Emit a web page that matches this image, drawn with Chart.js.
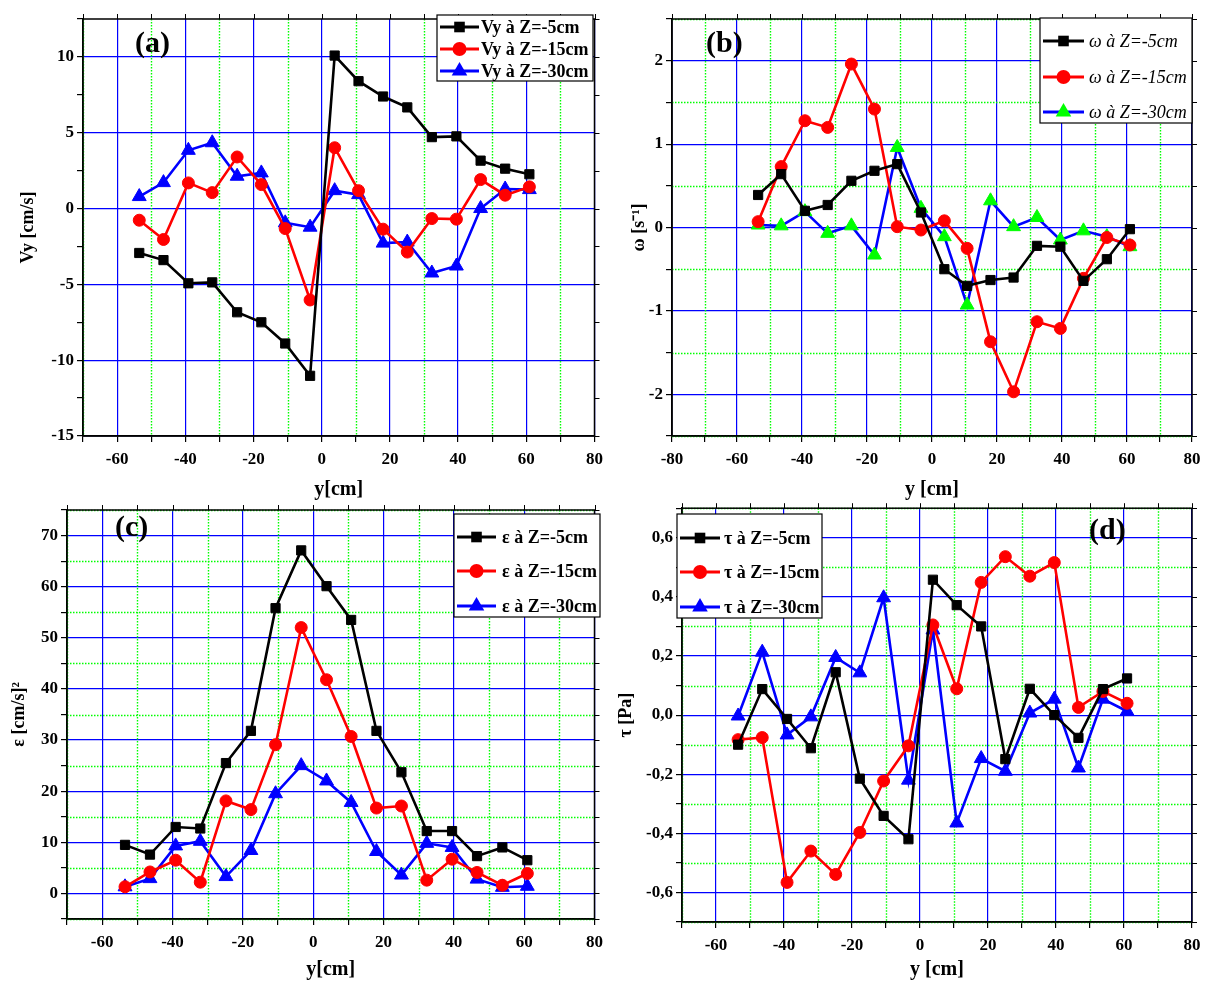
<!DOCTYPE html>
<html>
<head>
<meta charset="utf-8">
<script src="https://cdn.jsdelivr.net/npm/chart.js"></script>
<style>
  body { margin: 0; background: #fff; width: 1209px; height: 985px; position: relative; overflow: hidden; }
  canvas { position: absolute; }
</style>
</head>
<body>
<canvas id="chartA" width="610" height="505" style="left:0;top:0"></canvas>
<canvas id="chartB" width="599" height="505" style="left:610px;top:0"></canvas>
<canvas id="chartC" width="610" height="490" style="left:0;top:495px"></canvas>
<canvas id="chartD" width="599" height="490" style="left:610px;top:495px"></canvas>
<script>
// transverse positions y [cm], same for every series
var yPos = [-53.5, -46.4, -39.1, -32.1, -24.8, -17.7, -10.7, -3.4, 3.8, 10.8, 18, 25.1, 32.3, 39.5, 46.6, 53.8, 60.9];

// (a) Vy [cm/s]
var vyLabels = ['Vy à Z=-5cm', 'Vy à Z=-15cm', 'Vy à Z=-30cm'];
var vyZ5  = [-2.93, -3.4, -4.93, -4.87, -6.84, -7.5, -8.9, -11.03, 10.09, 8.4, 7.39, 6.67, 4.71, 4.76, 3.16, 2.63, 2.26];
var vyZ15 = [-0.77, -2.04, 1.69, 1.05, 3.4, 1.58, -1.32, -6.03, 4.01, 1.18, -1.36, -2.87, -0.66, -0.7, 1.91, 0.88, 1.43];
var vyZ30 = [0.79, 1.71, 3.84, 4.34, 2.13, 2.35, -0.94, -1.23, 1.18, 0.92, -2.28, -2.21, -4.25, -3.79, 0, 1.29, 1.25];

// (b) omega [s-1]
var omLabels = ['ω à Z=-5cm', 'ω à Z=-15cm', 'ω à Z=-30cm'];
var omZ5  = [0.39, 0.64, 0.2, 0.27, 0.56, 0.68, 0.76, 0.18, -0.5, -0.7, -0.63, -0.6, -0.22, -0.23, -0.64, -0.38, -0.02];
var omZ15 = [0.07, 0.73, 1.28, 1.2, 1.96, 1.42, 0.01, -0.03, 0.08, -0.25, -1.37, -1.97, -1.13, -1.21, -0.61, -0.12, -0.21];
var omZ30 = [0.03, 0.02, 0.19, -0.07, 0.02, -0.33, 0.96, 0.23, -0.11, -0.93, 0.32, 0.01, 0.12, -0.15, -0.04, -0.11, -0.23];

// (c) epsilon [cm/s]^2
var epsLabels = ['ε à Z=-5cm', 'ε à Z=-15cm', 'ε à Z=-30cm'];
var epsZ5  = [9.5, 7.6, 13.0, 12.7, 25.5, 31.8, 55.8, 67.1, 60.1, 53.5, 31.8, 23.7, 12.2, 12.2, 7.3, 9.0, 6.5];
var epsZ15 = [1.3, 4.2, 6.5, 2.2, 18.1, 16.4, 29.1, 52.0, 41.8, 30.7, 16.7, 17.1, 2.6, 6.7, 4.1, 1.6, 3.9];
var epsZ30 = [1.3, 2.9, 9.3, 10.2, 3.3, 8.4, 19.5, 25.0, 22.0, 17.8, 8.2, 3.6, 9.8, 9.0, 2.8, 1.2, 1.4];

// (d) tau [Pa]
var tauLabels = ['τ à Z=-5cm', 'τ à Z=-15cm', 'τ à Z=-30cm'];
var tauZ5  = [-0.1, 0.088, -0.013, -0.112, 0.145, -0.215, -0.341, -0.42, 0.458, 0.372, 0.3, -0.149, 0.089, 0.0, -0.077, 0.088, 0.124];
var tauZ15 = [-0.083, -0.076, -0.566, -0.46, -0.539, -0.397, -0.223, -0.104, 0.305, 0.089, 0.449, 0.536, 0.47, 0.516, 0.026, 0.08, 0.04];
var tauZ30 = [-0.003, 0.213, -0.067, -0.006, 0.195, 0.143, 0.397, -0.22, 0.288, -0.365, -0.147, -0.19, 0.007, 0.054, -0.179, 0.054, 0.013];

var FONT = "'Liberation Serif', 'Times New Roman', serif";
var BLACK = '#000000', RED = '#ff0000', BLUE = '#0000ff', GREEN = '#00ff00';

function pts(values) {
    return values.map(function (v, i) { return { x: yPos[i], y: v }; });
}

function series(label, values, color, style, pointColor) {
    var pc = pointColor || color;
    return {
        label: label,
        data: pts(values),
        borderColor: color,
        backgroundColor: pc,
        pointBackgroundColor: pc,
        pointBorderColor: pc,
        borderWidth: 2.6,
        pointStyle: style,
        pointRadius: style === 'triangle' ? 8 : (style === 'rect' ? 6.5 : 6),
        pointBorderWidth: 1,
        tension: 0
    };
}

function drawMarker(ctx, style, x, y, r) {
    ctx.beginPath();
    if (style === 'rect') {
        var s = r * Math.SQRT1_2;
        ctx.rect(x - s, y - s, 2 * s, 2 * s);
    } else if (style === 'circle') {
        ctx.arc(x, y, r, 0, Math.PI * 2);
    } else {
        ctx.moveTo(x, y - r);
        ctx.lineTo(x + r * 0.866, y + r * 0.5);
        ctx.lineTo(x - r * 0.866, y + r * 0.5);
        ctx.closePath();
    }
    ctx.fill();
}

// green dotted minor grid, frame, top/right ticks, boxed legend, panel letter
function decoPlugin(cfg) {
    return {
        id: 'deco',
        beforeDatasetsDraw: function (chart) {
            var ctx = chart.ctx, a = chart.chartArea, sx = chart.scales.x, sy = chart.scales.y;
            ctx.save();
            ctx.strokeStyle = GREEN;
            ctx.lineWidth = 1.4;
            ctx.setLineDash([1.5, 1.5]);
            sx.ticks.forEach(function (t) {
                if (t.value % 20 === 0) return;
                var p = Math.round(sx.getPixelForValue(t.value)) + 0.5;
                ctx.beginPath(); ctx.moveTo(p, a.top); ctx.lineTo(p, a.bottom); ctx.stroke();
            });
            if (cfg.greenY) {
                sy.ticks.forEach(function (t) {
                    if (cfg.yMajor(t.value)) return;
                    var p = Math.round(sy.getPixelForValue(t.value)) + 0.5;
                    ctx.beginPath(); ctx.moveTo(a.left, p); ctx.lineTo(a.right, p); ctx.stroke();
                });
            }
            ctx.restore();
        },
        afterDraw: function (chart) {
            var ctx = chart.ctx, a = chart.chartArea, sx = chart.scales.x, sy = chart.scales.y;
            ctx.save();
            ctx.strokeStyle = BLACK;
            ctx.lineWidth = 1.5;
            ctx.strokeRect(a.left, a.top, a.right - a.left, a.bottom - a.top);
            ctx.lineWidth = 1;
            sx.ticks.forEach(function (t) {
                var p = Math.round(sx.getPixelForValue(t.value)) + 0.5;
                ctx.beginPath(); ctx.moveTo(p, a.top); ctx.lineTo(p, a.top - 5); ctx.stroke();
            });
            sy.ticks.forEach(function (t) {
                var p = Math.round(sy.getPixelForValue(t.value)) + 0.5;
                ctx.beginPath(); ctx.moveTo(a.right, p); ctx.lineTo(a.right + 5, p); ctx.stroke();
            });

            var L = cfg.legend;
            ctx.fillStyle = '#fff';
            ctx.fillRect(L.x, L.y, L.w, L.h);
            ctx.strokeStyle = BLACK;
            ctx.lineWidth = 1.2;
            ctx.strokeRect(L.x, L.y, L.w, L.h);
            chart.data.datasets.forEach(function (ds, i) {
                var ry = L.rows[i];
                ctx.strokeStyle = ds.borderColor;
                ctx.lineWidth = 3;
                ctx.beginPath(); ctx.moveTo(L.x1, ry); ctx.lineTo(L.x2, ry); ctx.stroke();
                ctx.fillStyle = ds.pointBackgroundColor;
                drawMarker(ctx, ds.pointStyle, (L.x1 + L.x2) / 2, ry, ds.pointRadius + 1);
                ctx.fillStyle = BLACK;
                ctx.font = L.font;
                ctx.textAlign = 'left';
                ctx.textBaseline = 'middle';
                ctx.fillText(ds.label, L.tx, ry + 1);
            });

            ctx.font = 'bold 30px ' + FONT;
            ctx.fillStyle = BLACK;
            ctx.textAlign = 'left';
            ctx.textBaseline = 'middle';
            ctx.fillText(cfg.letter, cfg.letterX, cfg.letterY);
            ctx.restore();
        }
    };
}

function makeChart(id, datasets, o) {
    var tickFont = { family: FONT, size: 17, weight: 'bold' };
    return new Chart(document.getElementById(id), {
        type: 'line',
        data: { datasets: datasets },
        options: {
            responsive: false,
            animation: false,
            devicePixelRatio: 1,
            layout: { padding: { left: 0, top: o.pad[0], right: o.pad[1], bottom: 0 } },
            plugins: { legend: { display: false }, tooltip: { enabled: false } },
            scales: {
                x: {
                    type: 'linear',
                    min: o.xMin,
                    max: 80,
                    afterFit: function (s) { s.height = o.xH; },
                    ticks: {
                        stepSize: 10, autoSkip: false, maxRotation: 0, padding: 7,
                        color: BLACK, font: tickFont,
                        callback: function (v) { return v % 20 === 0 ? String(v) : ''; }
                    },
                    grid: {
                        color: function (c) { return c.tick && c.tick.value % 20 === 0 ? BLUE : 'rgba(0,0,0,0)'; },
                        tickColor: BLACK, tickLength: 6, lineWidth: 1.2
                    },
                    border: { color: BLACK, width: 1.5 },
                    title: {
                        display: true, text: o.xTitle, color: BLACK,
                        font: { family: FONT, size: 20, weight: 'bold' },
                        padding: { top: 0, bottom: 3 }
                    }
                },
                y: {
                    type: 'linear',
                    min: o.yMin,
                    max: o.yMax,
                    afterFit: function (s) { s.width = o.yW; },
                    ticks: {
                        stepSize: o.yStep, autoSkip: false, padding: 3,
                        color: BLACK, font: tickFont,
                        callback: function (v) { return o.yMajor(v) ? o.yFmt(v) : ''; }
                    },
                    grid: {
                        color: function (c) { return c.tick && o.yMajor(c.tick.value) ? BLUE : 'rgba(0,0,0,0)'; },
                        tickColor: BLACK, tickLength: 6, lineWidth: 1.2
                    },
                    border: { color: BLACK, width: 1.5 },
                    title: {
                        display: true, text: o.yTitle, color: BLACK,
                        font: { family: FONT, size: 18, weight: 'bold' },
                        padding: { top: o.yTitlePad, bottom: 0 }
                    }
                }
            }
        },
        plugins: [decoPlugin(o.deco)]
    });
}

function majorStep(step) {
    return function (v) { return Math.abs(Math.round(v / step * 1000) - Math.round(v / step) * 1000) < 1; };
}

// (a)
var majA = majorStep(5);
makeChart('chartA', [
    series(vyLabels[0], vyZ5, BLACK, 'rect'),
    series(vyLabels[1], vyZ15, RED, 'circle'),
    series(vyLabels[2], vyZ30, BLUE, 'triangle')
], {
    xMin: -70, yMin: -15, yMax: 12.5, yStep: 2.5, yMajor: majA,
    yFmt: function (v) { return String(v); },
    xTitle: 'y[cm]', yTitle: 'Vy [cm/s]', yTitlePad: 18,
    pad: [19, 8], yW: 83, xH: 69,
    deco: {
        greenY: false, yMajor: majA, letter: '(a)', letterX: 135, letterY: 44,
        legend: { x: 437, y: 15, w: 156, h: 66, rows: [27, 49, 71], x1: 440, x2: 479, tx: 481,
                  font: 'bold 18px ' + FONT }
    }
});

// (b)
var majB = majorStep(1);
makeChart('chartB', [
    series(omLabels[0], omZ5, BLACK, 'rect'),
    series(omLabels[1], omZ15, RED, 'circle'),
    series(omLabels[2], omZ30, BLUE, 'triangle', GREEN)
], {
    xMin: -80, yMin: -2.5, yMax: 2.5, yStep: 0.5, yMajor: majB,
    yFmt: function (v) { return String(Math.round(v)); },
    xTitle: 'y [cm]', yTitle: 'ω [s⁻¹]', yTitlePad: 19,
    pad: [19, 17], yW: 62, xH: 69,
    deco: {
        greenY: true, yMajor: majB, letter: '(b)', letterX: 96, letterY: 44,
        legend: { x: 430, y: 18, w: 152, h: 105, rows: [41, 77, 112], x1: 433, x2: 474, tx: 479,
                  font: 'italic 18px ' + FONT }
    }
});

// (c)
var majC = majorStep(10);
makeChart('chartC', [
    series(epsLabels[0], epsZ5, BLACK, 'rect'),
    series(epsLabels[1], epsZ15, RED, 'circle'),
    series(epsLabels[2], epsZ30, BLUE, 'triangle')
], {
    xMin: -70, yMin: -5, yMax: 75, yStep: 5, yMajor: majC,
    yFmt: function (v) { return String(v); },
    xTitle: 'y[cm]', yTitle: 'ε [cm/s]²', yTitlePad: 9,
    pad: [15, 8], yW: 67, xH: 66,
    deco: {
        greenY: true, yMajor: majC, letter: '(c)', letterX: 115, letterY: 33,
        legend: { x: 454, y: 19, w: 146, h: 103, rows: [42, 76, 111], x1: 457, x2: 496, tx: 502,
                  font: 'bold 18px ' + FONT }
    }
});

// (d)
var majD = majorStep(0.2);
makeChart('chartD', [
    series(tauLabels[0], tauZ5, BLACK, 'rect'),
    series(tauLabels[1], tauZ15, RED, 'circle'),
    series(tauLabels[2], tauZ30, BLUE, 'triangle')
], {
    xMin: -70, yMin: -0.7, yMax: 0.7, yStep: 0.1, yMajor: majD,
    yFmt: function (v) { return (Math.round(v * 10) / 10).toFixed(1).replace('.', ','); },
    xTitle: 'y [cm]', yTitle: 'τ [Pa]', yTitlePad: 6,
    pad: [13, 17], yW: 72, xH: 63,
    deco: {
        greenY: true, yMajor: majD, letter: '(d)', letterX: 479, letterY: 36,
        legend: { x: 67, y: 19, w: 145, h: 104, rows: [43, 77, 112], x1: 70, x2: 110, tx: 114,
                  font: 'bold 18px ' + FONT }
    }
});
</script>
</body>
</html>
